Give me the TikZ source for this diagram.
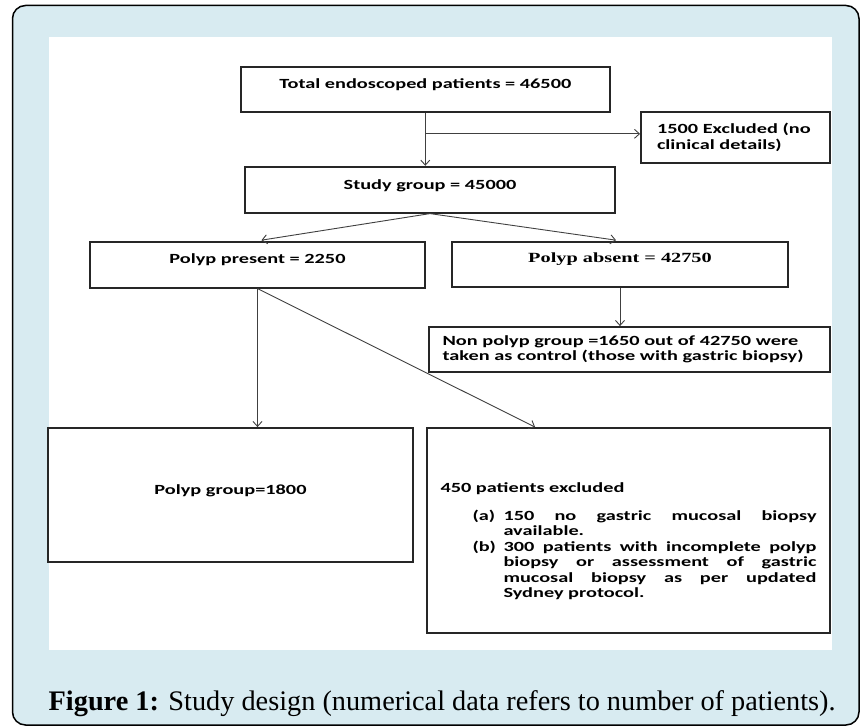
\documentclass[tikz,border=0pt]{standalone}
\usepackage{fontspec}
\setmainfont{Liberation Serif}
\newfontfamily\boxfont{Carlito}[FakeStretch=1.45]
\newfontfamily\timesbox{Liberation Serif}[FakeStretch=1.45]
\usetikzlibrary{arrows.meta, calc}
\definecolor{panelblue}{RGB}{216,235,241}

\begin{document}
\begin{tikzpicture}[x=1pt, y=-1pt,
  box/.style={draw=black!85, line width=1.8pt, inner sep=0pt,
    font=\boxfont\bfseries\fontsize{14}{15.5}\selectfont},
  arr/.style={draw=black!75, line width=0.9pt, -{Straight Barb[length=5pt,width=9pt]}}]
\useasboundingbox (0,0) rectangle (865,727);
\draw[line width=1.5pt, fill=panelblue, rounded corners=13pt] (12.5,5.5) rectangle (859,725);
\fill[white] (48.5,37) rectangle (832,650);

\node[box, minimum width=369pt, text height=21.8pt, text depth=23.5pt] (total) at (425.3,89.3) {Total endoscoped patients = 46500};
\node[box, minimum width=370pt, text height=22.8pt, text depth=23.2pt] (study) at (430,189.7) {Study group = 45000};
\node[box, text width=157pt, inner xsep=16pt, minimum height=51pt, align=left,
  font=\boxfont\bfseries\fontsize{14}{16.5}\selectfont] (excl) at (735.5,137.5) {1500 Excluded (no\\clinical details)};
\node[box, minimum width=335pt, text height=21.8pt, text depth=24.2pt] (present) at (257.5,264.7) {Polyp present = 2250};
\node[box, minimum width=336pt, text height=20.8pt, text depth=24.5pt,
  font=\timesbox\bfseries\fontsize{14}{16}\selectfont] (absent) at (620,264.3) {Polyp absent = 42750};
\node[box, text width=374pt, inner xsep=13.5pt, minimum height=45pt, align=left,
  font=\boxfont\bfseries\fontsize{14}{14.5}\selectfont] (nonpolyp) at (629.5,349.5) {Non polyp group =1650 out of 42750 were\\taken as control (those with gastric biopsy)};
\node[box, minimum width=365pt, text height=66.5pt, text depth=67.5pt] (group) at (230.5,495) {Polyp group=1800};
\node[box, text width=376pt, inner xsep=13.5pt, minimum height=205pt, align=justify] (bigright) at (628.5,530.5) {\noindent\rule{0pt}{31pt}450 patients excluded\par\vspace{12.4pt}
{\leftskip=32pt\hangindent=31pt\hangafter=1\noindent\makebox[31pt][l]{(a)}150 no gastric mucosal biopsy\linebreak available.\par}
{\leftskip=32pt\hangindent=31pt\hangafter=1\noindent\makebox[31pt][l]{(b)}300 patients with incomplete polyp\linebreak biopsy or assessment of gastric\linebreak mucosal biopsy as per updated\linebreak Sydney protocol.\par}};

\node[anchor=base west, inner sep=0pt, font=\fontsize{28.3}{32}\selectfont] (caption) at (48.5,710.5) {\textbf{Figure 1:} Study design (numerical data refers to number of patients).};

\coordinate (split) at ($(total.south)+(0,21)$);
\draw[arr] (total.south) -- (total.south |- study.north);
\draw[arr] (split) -- (split -| excl.west);
\draw[arr, shorten >=4pt] (study.south) -- (present.north);
\draw[arr, shorten >=4pt] (study.south) -- (absent.north);
\draw[arr] (absent.south) -- (absent.south |- nonpolyp.north);
\draw[arr] (present.south) -- (present.south |- group.north);
\draw[arr] (present.south) -- ($(bigright.north west)+(109,0)$);
\end{tikzpicture}
\end{document}
